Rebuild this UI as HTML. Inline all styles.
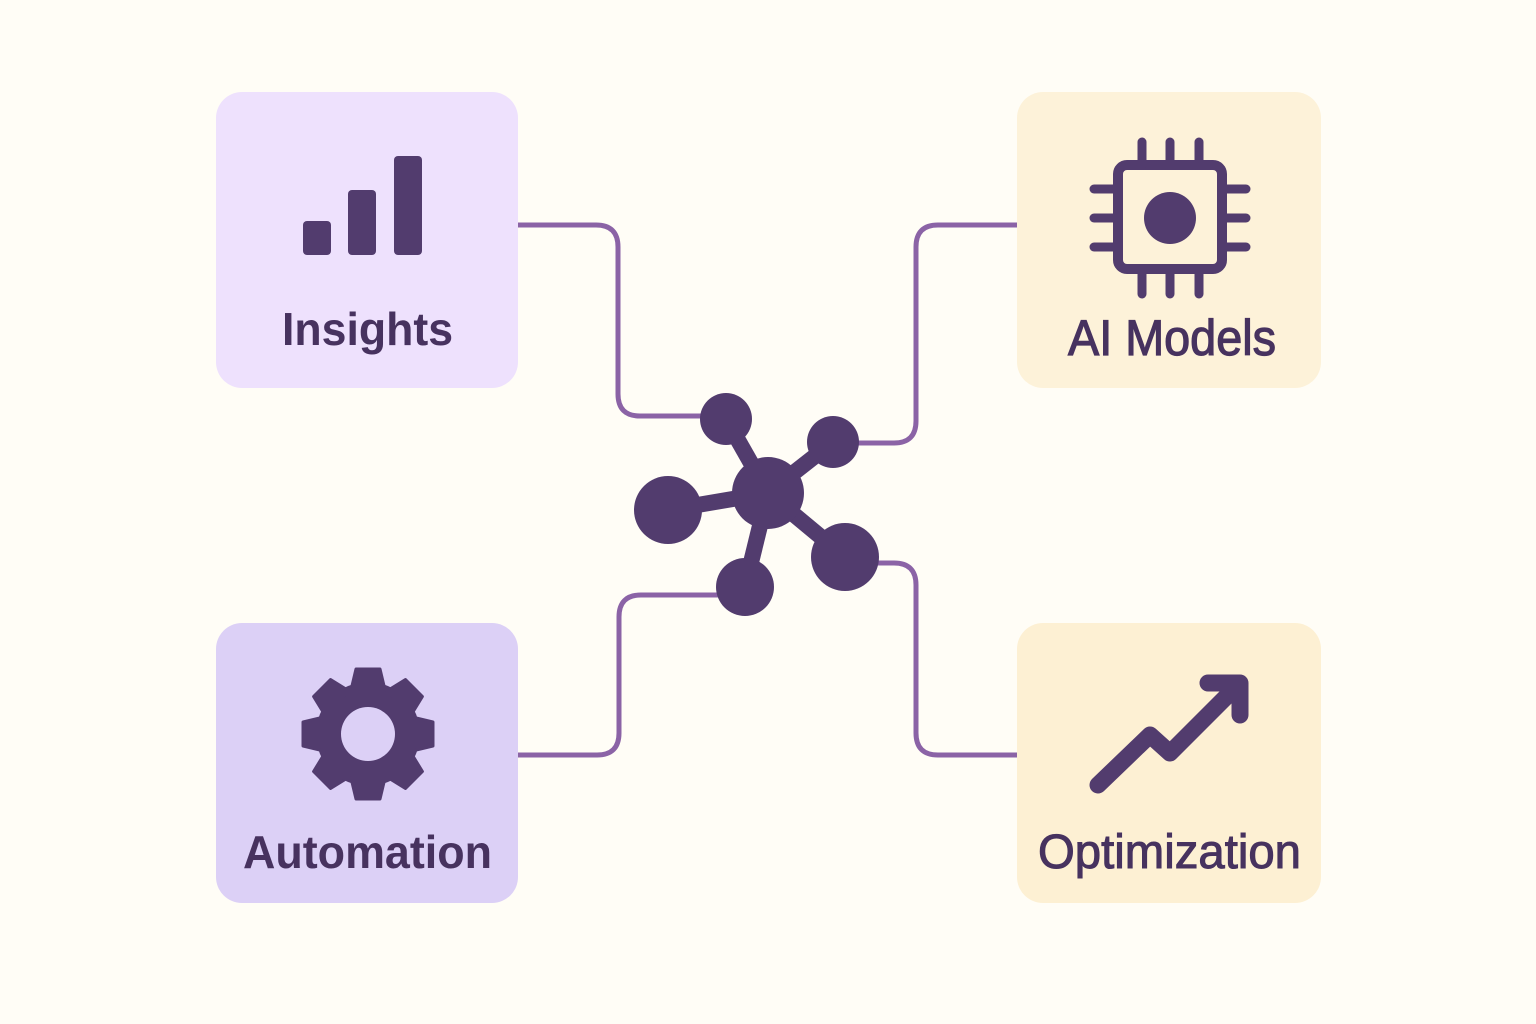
<!DOCTYPE html>
<html>
<head>
<meta charset="utf-8">
<style>
html,body{margin:0;padding:0;background:#fffdf6;}
body{width:1536px;height:1024px;overflow:hidden;}
svg{display:block;}
text{font-family:"Liberation Sans",sans-serif;fill:#47325f;}
</style>
</head>
<body>
<svg width="1536" height="1024" viewBox="0 0 1536 1024" xmlns="http://www.w3.org/2000/svg">
  <rect x="0" y="0" width="1536" height="1024" fill="#fffdf6"/>

  <!-- connectors -->
  <g fill="none" stroke="#8b63a6" stroke-width="5">
    <path d="M518,225 H596 Q618,225 618,247 V394 Q618,416 640,416 H705"/>
    <path d="M855,443 H894 Q916,443 916,421 V247 Q916,225 938,225 H1018"/>
    <path d="M870,563 H894 Q916,563 916,585 V733 Q916,755 938,755 H1018"/>
    <path d="M740,595 H641 Q619,595 619,617 V733 Q619,755 597,755 H518"/>
  </g>

  <!-- boxes -->
  <rect x="216" y="92" width="302" height="296" rx="26" fill="#eee1fd"/>
  <rect x="216" y="623" width="302" height="280" rx="26" fill="#dcd0f6"/>
  <rect x="1017" y="92" width="304" height="296" rx="26" fill="#fdf2d9"/>
  <rect x="1017" y="623" width="304" height="280" rx="26" fill="#fdf0d3"/>

  <!-- bars icon -->
  <g fill="#523c6e">
    <rect x="303" y="221" width="28" height="34" rx="4"/>
    <rect x="348" y="190" width="28" height="65" rx="4"/>
    <rect x="394" y="156" width="28" height="99" rx="4"/>
  </g>

  <!-- gear icon -->
  <g transform="translate(368,734)" fill="#523c6e">
    <circle cx="0" cy="0" r="52"/>
    <g stroke="#523c6e" stroke-width="3" stroke-linejoin="round">
      <polygon points="-17,-44 -12,-65 12,-65 17,-44" transform="rotate(0)"/>
      <polygon points="-17,-44 -12,-65 12,-65 17,-44" transform="rotate(45)"/>
      <polygon points="-17,-44 -12,-65 12,-65 17,-44" transform="rotate(90)"/>
      <polygon points="-17,-44 -12,-65 12,-65 17,-44" transform="rotate(135)"/>
      <polygon points="-17,-44 -12,-65 12,-65 17,-44" transform="rotate(180)"/>
      <polygon points="-17,-44 -12,-65 12,-65 17,-44" transform="rotate(225)"/>
      <polygon points="-17,-44 -12,-65 12,-65 17,-44" transform="rotate(270)"/>
      <polygon points="-17,-44 -12,-65 12,-65 17,-44" transform="rotate(315)"/>
    </g>
    <circle cx="0" cy="0" r="27" fill="#dcd0f6"/>
  </g>

  <!-- chip icon -->
  <g stroke="#523c6e" fill="none" stroke-linecap="round">
    <rect x="1118" y="165" width="104" height="104" rx="9" stroke-width="10"/>
    <g stroke-width="9">
      <line x1="1142" y1="142" x2="1142" y2="165"/>
      <line x1="1170" y1="142" x2="1170" y2="165"/>
      <line x1="1199" y1="142" x2="1199" y2="165"/>
      <line x1="1142" y1="269" x2="1142" y2="294"/>
      <line x1="1170" y1="269" x2="1170" y2="294"/>
      <line x1="1199" y1="269" x2="1199" y2="294"/>
      <line x1="1094" y1="189" x2="1118" y2="189"/>
      <line x1="1094" y1="218" x2="1118" y2="218"/>
      <line x1="1094" y1="247" x2="1118" y2="247"/>
      <line x1="1222" y1="189" x2="1246" y2="189"/>
      <line x1="1222" y1="218" x2="1246" y2="218"/>
      <line x1="1222" y1="247" x2="1246" y2="247"/>
    </g>
  </g>
  <circle cx="1170" cy="218" r="26" fill="#523c6e"/>

  <!-- trend arrow icon -->
  <g stroke="#523c6e" fill="none" stroke-width="17" stroke-linecap="round" stroke-linejoin="round">
    <polyline points="1098,785 1150,735 1170,753 1236,687"/>
    <polyline points="1208,683 1240,683 1240,715"/>
  </g>

  <!-- central network -->
  <g stroke="#523c6e" stroke-width="16">
    <line x1="768" y1="493" x2="726" y2="419"/>
    <line x1="768" y1="493" x2="833" y2="442"/>
    <line x1="768" y1="493" x2="668" y2="510"/>
    <line x1="768" y1="493" x2="745" y2="587"/>
    <line x1="768" y1="493" x2="845" y2="557"/>
  </g>
  <g fill="#523c6e">
    <circle cx="768" cy="493" r="36"/>
    <circle cx="726" cy="419" r="26"/>
    <circle cx="833" cy="442" r="26"/>
    <circle cx="668" cy="510" r="34"/>
    <circle cx="745" cy="587" r="29"/>
    <circle cx="845" cy="557" r="34"/>
  </g>

  <!-- labels -->
  <text x="282" y="345" font-size="46" font-weight="bold" textLength="171" lengthAdjust="spacingAndGlyphs">Insights</text>
  <text x="243" y="868" font-size="46" font-weight="bold" textLength="249" lengthAdjust="spacingAndGlyphs">Automation</text>
  <text x="1068" y="355" font-size="50" stroke="#47325f" stroke-width="1.2" textLength="208" lengthAdjust="spacingAndGlyphs">AI Models</text>
  <text x="1038" y="868" font-size="48" stroke="#47325f" stroke-width="1" textLength="263" lengthAdjust="spacingAndGlyphs">Optimization</text>
</svg>
</body>
</html>
